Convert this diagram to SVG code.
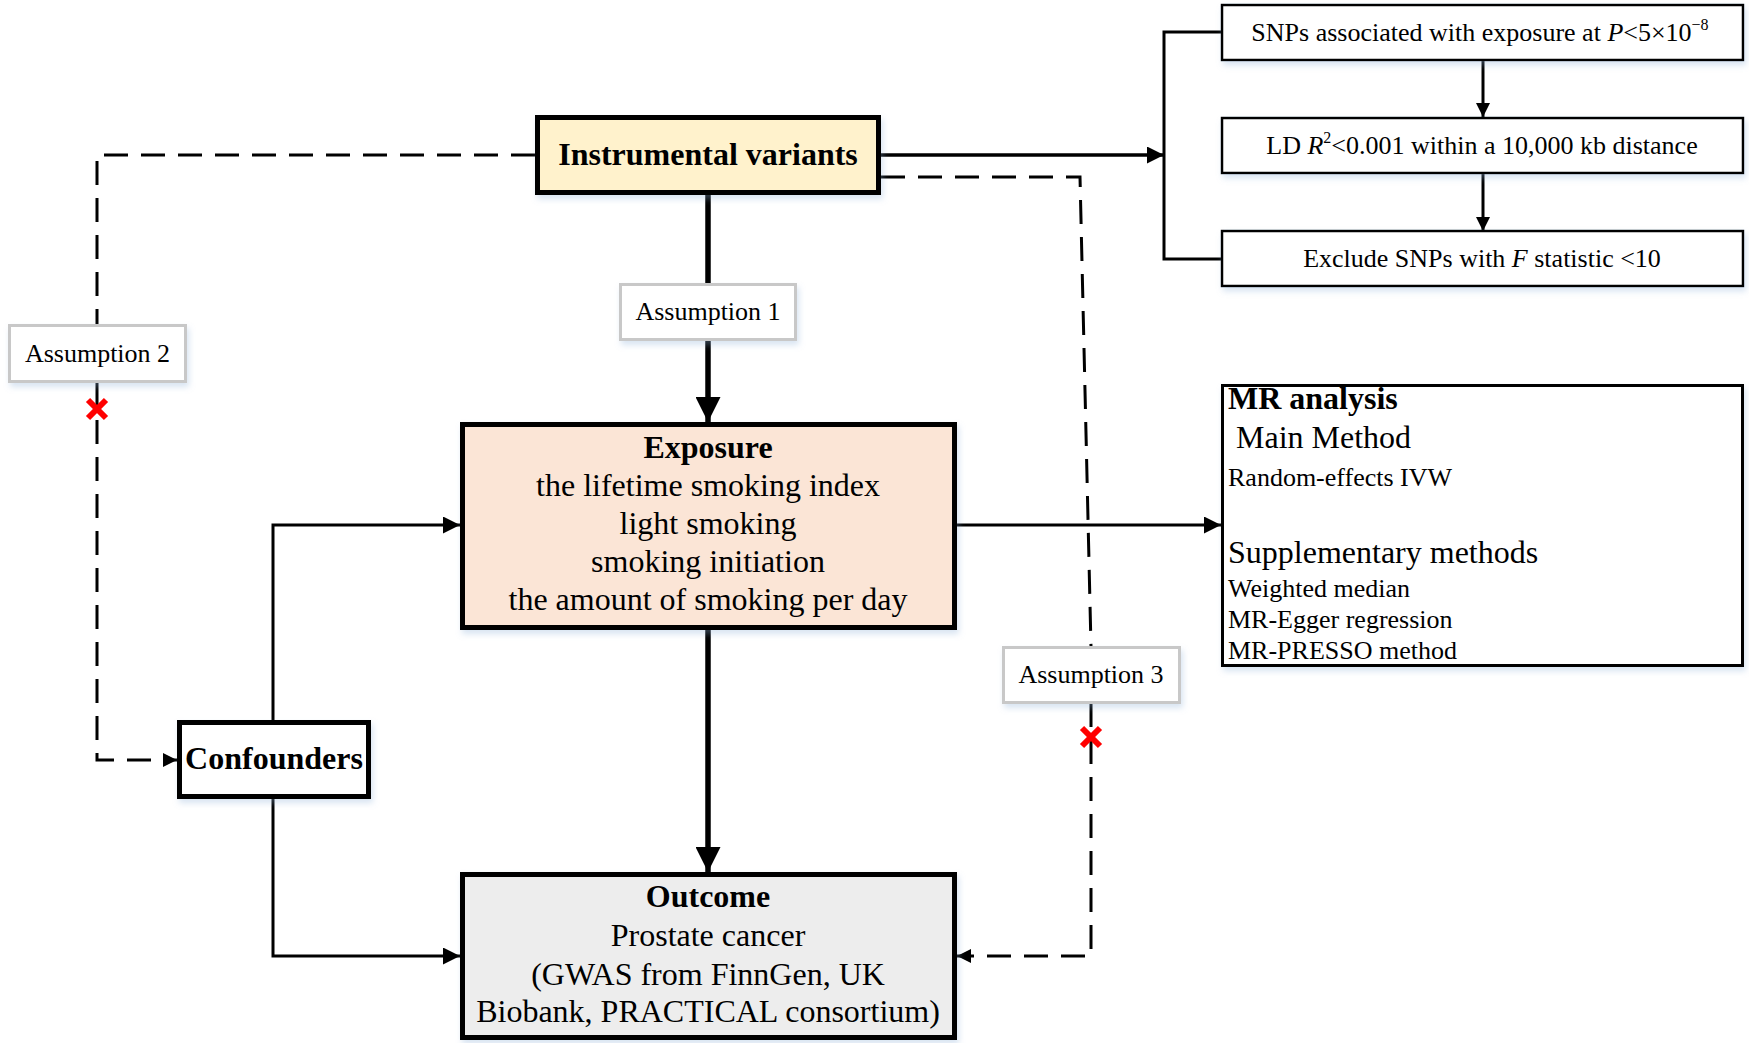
<svg xmlns="http://www.w3.org/2000/svg" width="1749" height="1043" viewBox="0 0 1749 1043">
<defs>
<filter id="sh" x="-10%" y="-10%" width="130%" height="140%"><feDropShadow dx="2" dy="4" stdDeviation="3" flood-color="#8fb0d8" flood-opacity="0.35"/></filter>
<marker id="a" viewBox="0 0 10 10" refX="10" refY="5" markerWidth="18" markerHeight="17" markerUnits="userSpaceOnUse" orient="auto"><path d="M0,0L10,5L0,10z" fill="#000"/></marker>
<marker id="ab" viewBox="0 0 10 10" refX="10" refY="5" markerWidth="25" markerHeight="25" markerUnits="userSpaceOnUse" orient="auto"><path d="M0,0L10,5L0,10z" fill="#000"/></marker>
<marker id="as" viewBox="0 0 10 10" refX="10" refY="5" markerWidth="14" markerHeight="15" markerUnits="userSpaceOnUse" orient="auto"><path d="M0,0L10,5L0,10z" fill="#000"/></marker>
</defs>
<style>
text{font-family:"Liberation Serif","Times New Roman",serif;fill:#000}
.t32{font-size:32px}
.b{font-weight:bold}
.n26{font-size:26px}
.mid{text-anchor:middle}
.box{stroke:#000;stroke-width:5}
.thin{fill:#fff;stroke:#000;stroke-width:2.5}
.asm{fill:#fff;stroke:#c8c8c8;stroke-width:3}
.ln{fill:none;stroke:#000;stroke-width:3}
.thick{fill:none;stroke:#000;stroke-width:5.5}
.dash{fill:none;stroke:#000;stroke-width:3;stroke-dasharray:24 13}
.x{stroke:#ff0000;stroke-width:6}
</style>

<g id="connectors">
<line class="ln" x1="881" y1="155" x2="1164" y2="155" marker-end="url(#a)" style="stroke-width:3.5"/>
<path class="ln" d="M1221,32 H1164 V259 H1221"/>
<line class="ln" x1="1483" y1="61" x2="1483" y2="117" marker-end="url(#as)"/>
<line class="ln" x1="1483" y1="174" x2="1483" y2="231" marker-end="url(#as)"/>
<line class="thick" x1="708" y1="195" x2="708" y2="284"/>
<line class="thick" x1="708" y1="340" x2="708" y2="422" marker-end="url(#ab)"/>
<line class="thick" x1="708" y1="630" x2="708" y2="872" marker-end="url(#ab)"/>
<path class="ln" d="M273,720 V525 H460" marker-end="url(#a)"/>
<path class="ln" d="M273,799 V956 H460" marker-end="url(#a)"/>
<line class="ln" x1="957" y1="525" x2="1221" y2="525" marker-end="url(#a)"/>
<path class="dash" d="M535,155 H97 V760 H177" marker-end="url(#as)"/>
<path class="dash" d="M881,177 H1080 L1091,647"/>
<path class="dash" d="M1091,703 V956 H957" marker-end="url(#as)"/>
<g id="cross2"><line class="x" x1="88" y1="400" x2="106" y2="418"/><line class="x" x1="106" y1="400" x2="88" y2="418"/></g>
<g id="cross3"><line class="x" x1="1082" y1="728" x2="1100" y2="746"/><line class="x" x1="1100" y1="728" x2="1082" y2="746"/></g>
</g>

<g id="iv">
<rect class="box" x="537.5" y="117.5" width="341" height="75" fill="#FFF2CC" filter="url(#sh)"/>
<text class="t32 b mid" x="708" y="165">Instrumental variants</text>
</g>

<g id="assumption1">
<rect class="asm" x="620.5" y="284.5" width="175" height="55" filter="url(#sh)"/>
<text class="n26 mid" x="708" y="320">Assumption 1</text>
</g>

<g id="assumption2">
<rect class="asm" x="9.5" y="325.5" width="176" height="56" filter="url(#sh)"/>
<text class="n26 mid" x="97.5" y="362">Assumption 2</text>
</g>

<g id="assumption3">
<rect class="asm" x="1003.5" y="647.5" width="176" height="55" filter="url(#sh)"/>
<text class="n26 mid" x="1091" y="683">Assumption 3</text>
</g>

<g id="exposure">
<rect class="box" x="462.5" y="424.5" width="492" height="203" fill="#FBE5D6" filter="url(#sh)"/>
<text class="t32 b mid" x="708" y="458">Exposure</text>
<text class="t32 mid" x="708" y="496">the lifetime smoking index</text>
<text class="t32 mid" x="708" y="534">light smoking</text>
<text class="t32 mid" x="708" y="572">smoking initiation</text>
<text class="t32 mid" x="708" y="610">the amount of smoking per day</text>
</g>

<g id="confounders">
<rect class="box" x="179.5" y="722.5" width="189" height="74" fill="#fff" filter="url(#sh)"/>
<text class="t32 b mid" x="274" y="769">Confounders</text>
</g>

<g id="outcome">
<rect class="box" x="462.5" y="874.5" width="492" height="163" fill="#EDEDED" filter="url(#sh)"/>
<text class="t32 b mid" x="708" y="907">Outcome</text>
<text class="t32 mid" x="708" y="946">Prostate cancer</text>
<text class="t32 mid" x="708" y="985">(GWAS from FinnGen, UK</text>
<text class="t32 mid" x="708" y="1022">Biobank, PRACTICAL consortium)</text>
</g>

<g id="snps">
<rect class="thin" x="1222" y="5" width="521" height="55" filter="url(#sh)"/>
<text class="n26 mid" x="1480" y="41">SNPs associated with exposure at <tspan font-style="italic">P</tspan>&lt;5×10<tspan font-size="16" dy="-11">−8</tspan></text>
</g>

<g id="ld">
<rect class="thin" x="1222" y="118" width="521" height="55" filter="url(#sh)"/>
<text class="n26 mid" x="1482" y="154">LD <tspan font-style="italic">R</tspan><tspan font-size="16" dy="-11">2</tspan><tspan dy="11">&lt;0.001 within a 10,000 kb distance</tspan></text>
</g>

<g id="fstat">
<rect class="thin" x="1222" y="231" width="521" height="55" filter="url(#sh)"/>
<text class="n26 mid" x="1482" y="267">Exclude SNPs with <tspan font-style="italic">F</tspan> statistic &lt;10</text>
</g>

<g id="mr">
<rect x="1222.5" y="385.5" width="520" height="280" fill="#fff" stroke="#000" stroke-width="3" filter="url(#sh)"/>
<text class="t32 b" x="1228" y="409">MR analysis</text>
<text class="t32" x="1236" y="448">Main Method</text>
<text class="n26" x="1228" y="486">Random-effects IVW</text>
<text class="t32" x="1228" y="563">Supplementary methods</text>
<text class="n26" x="1228" y="597">Weighted median</text>
<text class="n26" x="1228" y="628">MR-Egger regression</text>
<text class="n26" x="1228" y="659">MR-PRESSO method</text>
</g>
</svg>
